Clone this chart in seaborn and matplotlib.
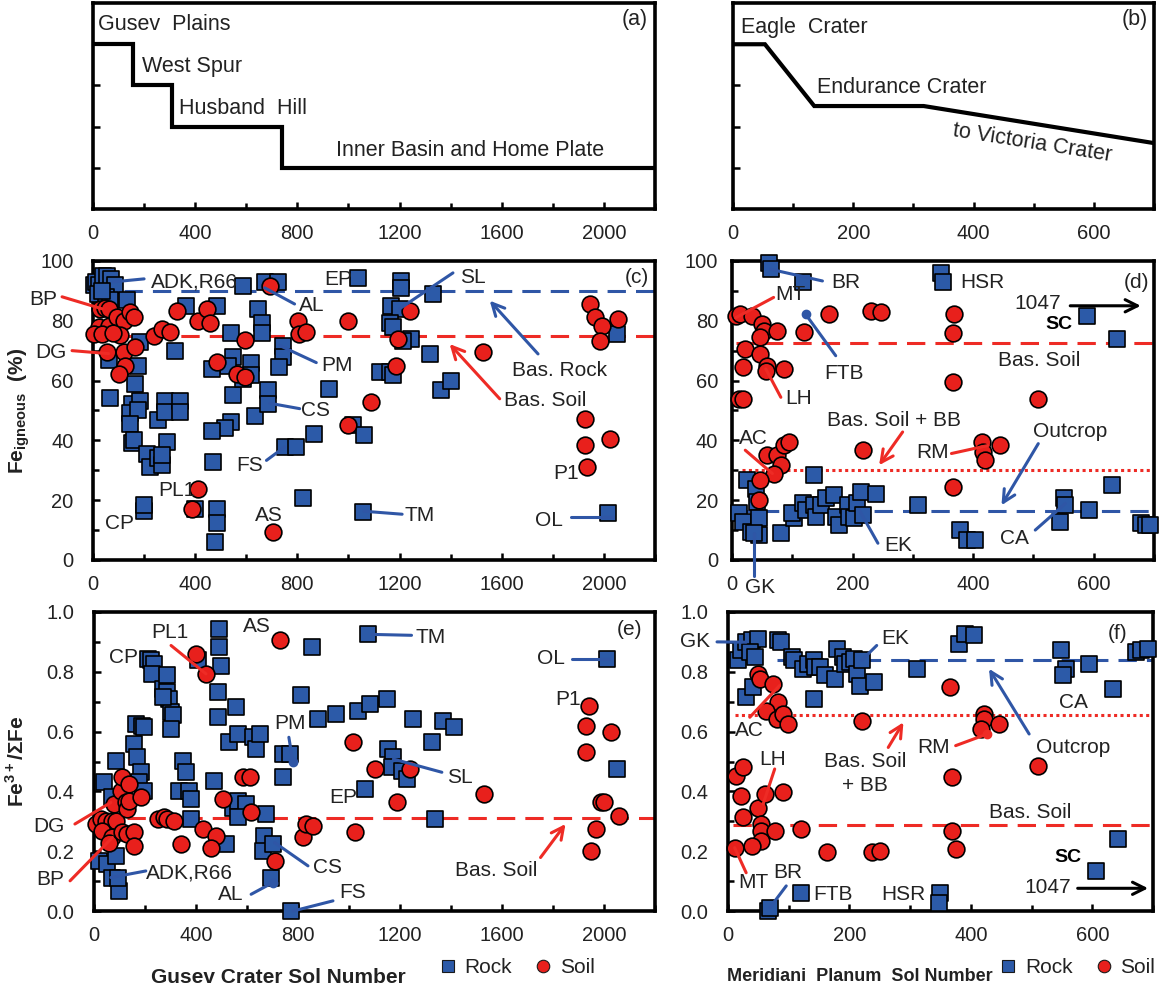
import numpy as np
import pandas as pd
import matplotlib
matplotlib.use('Agg')
import matplotlib.pyplot as plt
import seaborn as sns
from matplotlib.ticker import MultipleLocator, FormatStrFormatter, NullFormatter
from matplotlib.lines import Line2D

sns.set_style('ticks')
plt.rcParams['font.family'] = ['Liberation Sans', 'DejaVu Sans']
plt.rcParams['mathtext.fontset'] = 'custom'
plt.rcParams['mathtext.rm'] = 'Liberation Sans'
plt.rcParams['mathtext.bf'] = 'Liberation Sans:bold'

ROCK = '#2C5AA8'
SOIL = '#E8201C'
BLUE_L = '#2F56A6'
RED_L = '#EE2B25'
TXT = '#222222'

# ---- traverse profiles (a), (b) ----
gusev_path_sol = [0, 155, 155, 310, 310, 740, 740, 2200]
gusev_path_lvl = [4, 4, 3, 3, 2, 2, 1, 1]
meri_path_sol = [0, 53, 135, 317, 700]
meri_path_lvl = [4, 4, 2.5, 2.5, 1.6]

# ---- (c) Gusev, Fe igneous (%) : (sol, value) ----
c_rock = [(3, 92), (12, 93), (25, 92), (40, 95), (55, 95), (70, 94), (85, 92), (20, 89), (50, 88),
          (68, 87), (35, 90), (133, 87), (185, 73), (61, 67), (68, 54), (165, 59), (178, 65),
          (152, 52), (185, 53), (146, 49), (178, 50), (146, 45.5), (152, 39), (160, 40),
          (211, 35.5), (224, 31), (256, 34), (269, 31.7), (289, 39.4), (269, 35), (256, 46.7),
          (282, 53.3), (282, 49.4), (340, 53.3), (340, 49.4), (321, 70), (366, 85), (484, 85),
          (542, 76), (549, 67.8), (529, 65), (464, 64), (549, 55), (542, 46), (516, 44), (464, 43),
          (471, 32.8), (484, 17), (484, 12.2), (477, 6.1), (399, 17.2), (198, 16.5), (198, 18.3),
          (588, 91.7), (620, 66), (620, 62), (588, 60.5), (633, 48.3), (686, 56.7), (686, 52.2),
          (647, 84), (660, 79.4), (660, 76), (672, 92.8), (724, 92.8), (742, 71.7), (742, 67.8),
          (729, 64.4), (750, 37.8), (796, 37.8), (865, 42.2), (924, 57.2), (822, 20.6), (1017, 45),
          (1062, 41.7), (1037, 94.4), (1056, 16.1), (1207, 93.3), (1207, 91), (1167, 85),
          (1200, 83.9), (1161, 79.4), (1174, 77.8), (1246, 73.9), (1213, 73.3), (1331, 88.9),
          (1318, 68.9), (1363, 56.7), (1402, 60), (1122, 63), (1161, 63), (1174, 62), (2017, 15.6),
          (2050, 75.6)]
c_soil = [(29, 83.9), (48, 84.4), (61, 83.9), (22, 77.8), (61, 78.3), (94, 81.1), (120, 80),
          (146, 82.8), (159, 81.3), (3, 75.6), (35, 75.6), (107, 75.3), (80, 76), (55, 69.4),
          (120, 69.4), (165, 71.1), (126, 65), (100, 62.2), (237, 75), (269, 77.2), (302, 76.1),
          (328, 83.3), (412, 80), (445, 83.9), (458, 79.4), (484, 66.1), (562, 62.2), (595, 61.1),
          (595, 73.6), (692, 91.7), (802, 80), (808, 75.6), (834, 76.1), (997, 80), (1088, 52.8),
          (997, 45), (412, 23.9), (386, 17.2), (704, 9.4), (1239, 83.3), (1193, 73.9), (1187, 65),
          (1527, 69.4), (1945, 85.6), (1965, 81.1), (1991, 78.3), (2056, 80.6), (1984, 73.3),
          (1925, 47.2), (1925, 38.3), (1932, 31.1), (2023, 40.6)]

# ---- (d) Meridiani, Fe igneous (%) ----
d_rock = [(61, 99.4), (64, 97.2), (117, 92.8), (347, 96.1), (350, 92.8), (589, 81.7), (639, 73.9),
          (25, 26.7), (39, 23.9), (42, 19.4), (136, 28.3), (11, 15.6), (19, 12.8), (31, 9.4),
          (44, 8.3), (44, 13.9), (81, 8.9), (103, 13.9), (100, 15.6), (117, 18.9), (122, 16.7),
          (136, 18.3), (139, 14.4), (147, 18.3), (156, 20.6), (169, 21.7), (172, 14.4), (178, 11.7),
          (192, 18.3), (194, 14.4), (203, 13.9), (208, 18.9), (214, 22.8), (217, 15), (239, 22.2),
          (308, 18.3), (378, 10), (389, 6.7), (403, 6.7), (550, 20.6), (553, 18.3), (544, 12.8),
          (592, 16.7), (631, 25), (678, 12.2), (686, 11.7), (694, 11.7), (36, 8.9)]
d_soil = [(6, 81.7), (14, 82.2), (33, 81.7), (50, 78.9), (53, 76.7), (47, 74.4), (75, 76.7),
          (119, 76.1), (161, 82.2), (231, 83.3), (247, 82.8), (369, 82.2), (367, 75.8), (22, 70.6),
          (47, 68.9), (19, 64.4), (58, 65), (56, 63.3), (86, 63.9), (11, 53.9), (19, 53.9),
          (367, 59.4), (508, 53.9), (58, 35), (75, 35), (81, 31.7), (69, 28.9), (47, 26.7), (44, 20),
          (86, 38.3), (94, 39.4), (217, 36.7), (414, 39.4), (417, 36.1), (419, 33.3), (444, 38.3),
          (367, 24.4)]

# ---- (e) Gusev, Fe3+/total Fe ----
e_rock = [(39, 0.43), (85, 0.503), (72, 0.38), (20, 0.168), (52, 0.156), (85, 0.184), (72, 0.112),
          (98, 0.067), (92, 0.112), (157, 0.559), (164, 0.626), (190, 0.62), (197, 0.614),
          (170, 0.514), (184, 0.464), (177, 0.43), (197, 0.402), (210, 0.844), (223, 0.838),
          (236, 0.827), (229, 0.793), (269, 0.743), (288, 0.788), (288, 0.732), (295, 0.709),
          (302, 0.665), (308, 0.654), (302, 0.609), (269, 0.715), (347, 0.503), (360, 0.464),
          (334, 0.402), (373, 0.402), (380, 0.374), (380, 0.307), (406, 0.838), (492, 0.944),
          (492, 0.883), (498, 0.821), (485, 0.732), (485, 0.648), (472, 0.436), (556, 0.682),
          (531, 0.564), (564, 0.592), (544, 0.346), (564, 0.369), (597, 0.358), (564, 0.313),
          (623, 0.581), (636, 0.542), (649, 0.592), (518, 0.223), (675, 0.324), (668, 0.251),
          (662, 0.201), (695, 0.112), (701, 0.223), (741, 0.525), (767, 0.525), (741, 0.447),
          (813, 0.721), (854, 0.883), (878, 0.642), (950, 0.659), (1036, 0.67), (1082, 0.693),
          (1147, 0.709), (1062, 0.408), (1075, 0.927), (773, 0.0), (1154, 0.542), (1174, 0.514),
          (1167, 0.48), (1207, 0.469), (1226, 0.441), (1252, 0.642), (1325, 0.564), (1370, 0.637),
          (1410, 0.615), (1338, 0.307), (2013, 0.844), (2052, 0.475)]
e_soil = [(400, 0.86), (439, 0.793), (728, 0.905), (7, 0.291), (26, 0.307), (46, 0.302), (72, 0.302),
          (85, 0.302), (33, 0.268), (72, 0.246), (59, 0.229), (79, 0.358), (105, 0.402), (111, 0.447),
          (138, 0.425), (124, 0.363), (131, 0.341), (138, 0.369), (184, 0.38), (111, 0.263),
          (131, 0.257), (157, 0.263), (157, 0.218), (249, 0.307), (275, 0.313), (288, 0.307),
          (315, 0.302), (341, 0.223), (426, 0.274), (478, 0.251), (459, 0.212), (505, 0.374),
          (583, 0.447), (610, 0.447), (616, 0.33), (708, 0.168), (819, 0.246), (832, 0.291),
          (859, 0.285), (1016, 0.564), (1023, 0.263), (1101, 0.475), (1187, 0.363), (1239, 0.475),
          (1528, 0.391), (1941, 0.687), (1928, 0.62), (1928, 0.531), (2026, 0.598), (1987, 0.363),
          (2000, 0.363), (2059, 0.318), (1967, 0.274), (1947, 0.201)]

# ---- (f) Meridiani, Fe3+/total Fe ----
f_rock = [(17, 0.838), (22, 0.872), (30, 0.899), (39, 0.905), (50, 0.911), (36, 0.866), (44, 0.849),
          (30, 0.715), (41, 0.749), (83, 0.905), (88, 0.899), (105, 0.849), (108, 0.838), (124, 0.81),
          (132, 0.827), (141, 0.838), (143, 0.816), (152, 0.816), (160, 0.788), (176, 0.777),
          (179, 0.877), (190, 0.849), (193, 0.827), (201, 0.832), (207, 0.844), (212, 0.793),
          (220, 0.838), (218, 0.754), (240, 0.765), (141, 0.709), (311, 0.81), (380, 0.894),
          (391, 0.927), (405, 0.922), (548, 0.872), (556, 0.81), (551, 0.788), (595, 0.827),
          (634, 0.743), (672, 0.866), (681, 0.872), (692, 0.877), (642, 0.24), (606, 0.134),
          (121, 0.061), (350, 0.061), (347, 0.028), (66, 0.0), (69, 0.011)]
f_soil = [(50, 0.793), (52, 0.777), (74, 0.76), (83, 0.698), (63, 0.67), (80, 0.642), (91, 0.659),
          (99, 0.626), (220, 0.637), (366, 0.749), (421, 0.659), (421, 0.642), (416, 0.609),
          (446, 0.626), (510, 0.486), (369, 0.447), (369, 0.268), (375, 0.207), (14, 0.453),
          (25, 0.48), (22, 0.385), (25, 0.313), (50, 0.346), (61, 0.391), (91, 0.397), (55, 0.291),
          (55, 0.268), (77, 0.268), (55, 0.235), (39, 0.218), (11, 0.212), (121, 0.274),
          (163, 0.196), (237, 0.196), (251, 0.201)]

# basaltic / outcrop reference levels
c_bas_rock, c_bas_soil = 90, 75
d_bas_soil, d_bas_bb, d_outcrop = 72.5, 30, 16.3
e_bas_soil = 0.31
f_outcrop, f_bas_bb, f_bas_soil = 0.838, 0.657, 0.287

DASH = (0, (6, 3.3))
DOT = (0, (1, 1.1))

fig = plt.figure(figsize=(11.61, 9.85), dpi=100)
ax_a = fig.add_axes([0.0801, 0.7878, 0.4841, 0.2091])
ax_b = fig.add_axes([0.6314, 0.7878, 0.3626, 0.2091])
ax_c = fig.add_axes([0.0801, 0.4315, 0.4841, 0.3036])
ax_d = fig.add_axes([0.6305, 0.4315, 0.3635, 0.3036])
ax_e = fig.add_axes([0.0810, 0.0751, 0.4832, 0.3036])
ax_f = fig.add_axes([0.6270, 0.0751, 0.3661, 0.3036])


def style_axes(ax):
    for sp in ax.spines.values():
        sp.set_linewidth(2.6)
        sp.set_color('black')
    ax.tick_params(which='both', direction='in', top=False, right=False, width=1.8,
                   labelsize=14.5, labelcolor=TXT, color='black')
    ax.tick_params(which='major', length=5)
    ax.tick_params(which='minor', length=4)


def draw_points(ax, rock, soil):
    r = pd.DataFrame(rock, columns=['sol', 'val'])
    s = pd.DataFrame(soil, columns=['sol', 'val'])
    sns.scatterplot(data=r, x='sol', y='val', marker='s', s=140, color=ROCK, edgecolor='black',
                    linewidth=1.2, ax=ax, zorder=3, legend=False, clip_on=False)
    sns.scatterplot(data=s, x='sol', y='val', marker='o', s=145, color=SOIL, edgecolor='black',
                    linewidth=1.2, ax=ax, zorder=4, legend=False, clip_on=False)
    ax.set_xlabel('')
    ax.set_ylabel('')


def add_notes(ax, notes, size=15):
    for label, x, y, ha in notes:
        ax.text(x, y, label, ha=ha, va='center', fontsize=size, color=TXT, clip_on=False, zorder=6)


def add_links(ax, links):
    for x0, y0, x1, y1, color, kind in links:
        if kind == 'arrow':
            ax.annotate('', xy=(x1, y1), xytext=(x0, y0), annotation_clip=False,
                        arrowprops=dict(arrowstyle='->', color=color, lw=2.2, mutation_scale=22,
                                        shrinkA=0, shrinkB=0), zorder=6)
        else:
            ax.plot([x0, x1], [y0, y1], color=color, lw=2.2, solid_capstyle='round',
                    clip_on=False, zorder=5)
            if kind == 'dot':
                ax.plot([x1], [y1], 'o', color=color, ms=6, clip_on=False, zorder=5)


# ---- (a) ----
ax_a.plot(gusev_path_sol, gusev_path_lvl, color='black', lw=3, solid_joinstyle='miter')
ax_a.set_xlim(0, 2200)
ax_a.set_ylim(0, 5)
ax_a.xaxis.set_major_locator(MultipleLocator(400))
ax_a.xaxis.set_minor_locator(MultipleLocator(200))
ax_a.set_yticks([1, 2, 3, 4])
ax_a.yaxis.set_major_formatter(NullFormatter())
style_axes(ax_a)
ax_a.tick_params(axis='x', pad=11)
add_notes(ax_a, [('Gusev  Plains', 20, 4.47, 'left'), ('West Spur', 190, 3.45, 'left'),
                 ('Husband  Hill', 337, 2.45, 'left'),
                 ('Inner Basin and Home Plate', 950, 1.43, 'left'), ('(a)', 2170, 4.6, 'right')],
          size=15.5)

# ---- (b) ----
ax_b.plot(meri_path_sol, meri_path_lvl, color='black', lw=3, solid_joinstyle='miter')
ax_b.set_xlim(0, 700)
ax_b.set_ylim(0, 5)
ax_b.xaxis.set_major_locator(MultipleLocator(200))
ax_b.xaxis.set_minor_locator(MultipleLocator(100))
ax_b.set_yticks([1, 2, 3, 4])
ax_b.yaxis.set_major_formatter(NullFormatter())
style_axes(ax_b)
ax_b.tick_params(axis='x', pad=11)
add_notes(ax_b, [('Eagle  Crater', 13, 4.4, 'left'), ('Endurance Crater', 140, 2.96, 'left'),
                 ('(b)', 690, 4.6, 'right')], size=15.5)
ax_b.text(497, 1.6, 'to Victoria Crater', ha='center', va='center', fontsize=15.5, color=TXT,
          rotation=-9, rotation_mode='anchor')

# ---- (c) ----
ax_c.plot([120, 2200], [c_bas_rock] * 2, color=BLUE_L, lw=2.2, ls=DASH, zorder=2)
ax_c.plot([120, 2200], [c_bas_soil] * 2, color=RED_L, lw=2.2, ls=DASH, zorder=2)
draw_points(ax_c, c_rock, c_soil)
ax_c.set_xlim(0, 2200)
ax_c.set_ylim(0, 100)
ax_c.xaxis.set_major_locator(MultipleLocator(400))
ax_c.xaxis.set_minor_locator(MultipleLocator(200))
ax_c.yaxis.set_major_locator(MultipleLocator(20))
ax_c.yaxis.set_minor_locator(MultipleLocator(10))
style_axes(ax_c)
ax_c.tick_params(axis='x', pad=11)
ax_c.tick_params(axis='y', pad=14)
ax_c.set_ylabel(r'Fe$_{\mathbf{igneous}}$  (%)', fontsize=15, fontweight='bold', color=TXT)
ax_c.yaxis.set_label_coords(-0.108, 0.5)
add_notes(ax_c, [('ADK,R66', 225, 92.8, 'left'), ('BP', -141, 87.2, 'right'),
                 ('DG', -102, 69.4, 'right'), ('AL', 808, 85, 'left'), ('PM', 893, 65, 'left'),
                 ('CS', 815, 50, 'left'), ('FS', 562, 31.7, 'left'), ('PL1', 256, 23.3, 'left'),
                 ('CP', 48, 12.2, 'left'), ('AS', 633, 15, 'left'), ('EP', 906, 93.9, 'left'),
                 ('TM', 1220, 15, 'left'), ('SL', 1435, 94.4, 'left'),
                 ('Bas. Rock', 1640, 63.3, 'left'), ('Bas. Soil', 1608, 53.3, 'left'),
                 ('P1', 1801, 28.9, 'left'), ('OL', 1729, 13.3, 'left'), ('(c)', 2177, 94.4, 'right')])
add_links(ax_c, [(200, 94, 80, 93, BLUE_L, 'line'), (-121, 88, 35, 84, RED_L, 'line'),
                 (-82, 70, 61, 69, RED_L, 'line'), (789, 85.6, 672, 91, BLUE_L, 'line'),
                 (874, 66, 731, 71.7, BLUE_L, 'line'), (809, 50.6, 692, 52.4, BLUE_L, 'line'),
                 (679, 33.3, 750, 37.8, BLUE_L, 'line'), (1210, 15.3, 1060, 16.3, BLUE_L, 'line'),
                 (1409, 96, 1200, 84, BLUE_L, 'line'), (1742, 68.9, 1553, 86.7, BLUE_L, 'arrow'),
                 (1592, 53.9, 1396, 72.2, RED_L, 'arrow'), (1873, 14.4, 2036, 14.4, BLUE_L, 'line')])

# ---- (d) ----
ax_d.plot([6, 700], [d_bas_soil] * 2, color=RED_L, lw=2.2, ls=DASH, zorder=2)
ax_d.plot([17, 700], [d_bas_bb] * 2, color=RED_L, lw=2.2, ls=DOT, zorder=2)
ax_d.plot([0, 700], [d_outcrop] * 2, color=BLUE_L, lw=2.2, ls=DASH, zorder=2)
draw_points(ax_d, d_rock, d_soil)
ax_d.set_xlim(0, 700)
ax_d.set_ylim(0, 100)
ax_d.xaxis.set_major_locator(MultipleLocator(200))
ax_d.xaxis.set_minor_locator(MultipleLocator(100))
ax_d.yaxis.set_major_locator(MultipleLocator(20))
ax_d.yaxis.set_minor_locator(MultipleLocator(10))
style_axes(ax_d)
ax_d.tick_params(axis='x', pad=11)
ax_d.tick_params(axis='y', pad=10)
add_notes(ax_d, [('BR', 164, 92.8, 'left'), ('HSR', 378, 92.8, 'left'), ('MT', 72, 88.9, 'left'),
                 ('FTB', 153, 62.2, 'left'), ('LH', 89, 53.9, 'left'), ('AC', 11, 40.6, 'left'),
                 ('Bas. Soil + BB', 268, 46.7, 'center'), ('RM', 306, 36.1, 'left'),
                 ('Bas. Soil', 442, 66.7, 'left'), ('Outcrop', 500, 42.8, 'left'),
                 ('EK', 253, 5, 'left'), ('CA', 444, 7.2, 'left'), ('GK', 22, -9.3, 'left'),
                 ('1047', 469, 85.6, 'left'), ('(d)', 692, 92.8, 'right')])
ax_d.text(519, 78.9, 'SC', ha='left', va='center', fontsize=14, fontweight='bold', color='black')
add_links(ax_d, [(150, 93.3, 64, 97.2, BLUE_L, 'line'), (69, 87.8, 6, 81, RED_L, 'line'),
                 (172, 68.3, 122, 82.2, BLUE_L, 'dot'), (81, 54.4, 56, 63.9, RED_L, 'line'),
                 (22, 36.7, 67, 28.9, RED_L, 'line'), (283, 42.8, 244, 31.7, RED_L, 'arrow'),
                 (364, 35.6, 425, 38.3, RED_L, 'line'), (508, 38.9, 447, 18.3, BLUE_L, 'arrow'),
                 (242, 5.6, 211, 16.7, BLUE_L, 'line'), (503, 10, 553, 18.9, BLUE_L, 'line'),
                 (36, 8.9, 36, -5.5, BLUE_L, 'line'), (561, 85, 678, 85, 'black', 'arrow')])

# ---- (e) ----
ax_e.plot([131, 2200], [e_bas_soil] * 2, color=RED_L, lw=2.2, ls=DASH, zorder=2)
draw_points(ax_e, e_rock, e_soil)
ax_e.set_xlim(0, 2200)
ax_e.set_ylim(0, 1.0)
ax_e.xaxis.set_major_locator(MultipleLocator(400))
ax_e.xaxis.set_minor_locator(MultipleLocator(200))
ax_e.yaxis.set_major_locator(MultipleLocator(0.2))
ax_e.yaxis.set_minor_locator(MultipleLocator(0.1))
ax_e.yaxis.set_major_formatter(FormatStrFormatter('%.1f'))
style_axes(ax_e)
ax_e.tick_params(axis='x', pad=11)
ax_e.tick_params(axis='y', pad=14)
ax_e.set_ylabel(r'Fe$^{\mathbf{3+}}$/ΣFe', fontsize=15, fontweight='bold', color=TXT)
ax_e.yaxis.set_label_coords(-0.118, 0.5)
add_notes(ax_e, [('AS', 583, 0.95, 'left'), ('PL1', 223, 0.933, 'left'), ('CP', 59, 0.849, 'left'),
                 ('PM', 708, 0.626, 'left'), ('EP', 924, 0.38, 'left'), ('DG', -114, 0.283, 'right'),
                 ('BP', -117, 0.104, 'right'), ('ADK,R66', 203, 0.128, 'left'),
                 ('AL', 485, 0.056, 'left'), ('CS', 859, 0.145, 'left'), ('FS', 963, 0.061, 'left'),
                 ('TM', 1259, 0.916, 'left'), ('OL', 1737, 0.844, 'left'), ('P1', 1810, 0.709, 'left'),
                 ('SL', 1384, 0.447, 'left'), ('Bas. Soil', 1416, 0.134, 'left'),
                 ('(e)', 2151, 0.94, 'right')])
add_links(ax_e, [(302, 0.888, 439, 0.793, RED_L, 'line'), (764, 0.581, 780, 0.497, BLUE_L, 'dot'),
                 (-75, 0.291, 66, 0.363, RED_L, 'line'), (-94, 0.101, 72, 0.246, RED_L, 'line'),
                 (203, 0.134, 66, 0.112, BLUE_L, 'line'), (616, 0.056, 701, 0.095, BLUE_L, 'dot'),
                 (839, 0.151, 708, 0.229, BLUE_L, 'line'), (937, 0.034, 780, 0.0, BLUE_L, 'line'),
                 (1245, 0.922, 1090, 0.925, BLUE_L, 'line'), (1875, 0.844, 2019, 0.844, BLUE_L, 'line'),
                 (1364, 0.464, 1174, 0.508, BLUE_L, 'line'), (1751, 0.179, 1849, 0.291, RED_L, 'arrow')])

# ---- (f) ----
ax_f.plot([80, 700], [f_outcrop] * 2, color=BLUE_L, lw=2.2, ls=DASH, zorder=2)
ax_f.plot([11, 700], [f_bas_bb] * 2, color=RED_L, lw=2.2, ls=DOT, zorder=2)
ax_f.plot([8, 700], [f_bas_soil] * 2, color=RED_L, lw=2.2, ls=DASH, zorder=2)
draw_points(ax_f, f_rock, f_soil)
ax_f.set_xlim(0, 700)
ax_f.set_ylim(0, 1.0)
ax_f.xaxis.set_major_locator(MultipleLocator(200))
ax_f.xaxis.set_minor_locator(MultipleLocator(100))
ax_f.yaxis.set_major_locator(MultipleLocator(0.2))
ax_f.yaxis.set_minor_locator(MultipleLocator(0.1))
ax_f.yaxis.set_major_formatter(FormatStrFormatter('%.1f'))
style_axes(ax_f)
ax_f.tick_params(axis='x', pad=11)
ax_f.tick_params(axis='y', pad=14)
add_notes(ax_f, [('GK', -30, 0.9, 'right'), ('EK', 253, 0.911, 'left'), ('(f)', 658, 0.927, 'right'),
                 ('AC', 11, 0.603, 'left'), ('LH', 52, 0.508, 'left'), ('RM', 311, 0.547, 'left'),
                 ('CA', 545, 0.698, 'left'), ('Outcrop', 507, 0.547, 'left'),
                 ('Bas. Soil', 430, 0.33, 'left'), ('1047', 488, 0.078, 'left'),
                 ('MT', 17, 0.095, 'left'), ('BR', 74, 0.128, 'left'), ('FTB', 140, 0.056, 'left'),
                 ('HSR', 253, 0.056, 'left')])
ax_f.text(226, 0.46, 'Bas. Soil\n+ BB', ha='center', va='center', fontsize=15, color=TXT,
          multialignment='center', linespacing=1.3)
ax_f.text(537, 0.179, 'SC', ha='left', va='center', fontsize=14, fontweight='bold', color='black')
add_links(ax_f, [(-18, 0.9, 30, 0.899, BLUE_L, 'line'), (245, 0.888, 220, 0.838, BLUE_L, 'line'),
                 (36, 0.648, 85, 0.754, RED_L, 'line'), (77, 0.475, 58, 0.358, RED_L, 'line'),
                 (264, 0.547, 289, 0.631, RED_L, 'arrow'), (375, 0.553, 427, 0.592, RED_L, 'dot'),
                 (496, 0.592, 430, 0.81, BLUE_L, 'arrow'), (576, 0.076, 692, 0.076, 'black', 'arrow'),
                 (30, 0.128, 11, 0.212, RED_L, 'line'), (96, 0.084, 69, 0.011, BLUE_L, 'line')])

# ---- bottom labels and legends ----
handles = [Line2D([], [], marker='s', ls='', color=ROCK, mec='#1a1a1a', mew=0.8, ms=9),
           Line2D([], [], marker='o', ls='', color=SOIL, mec='#1a1a1a', mew=0.8, ms=9)]
for ax, label, size, lx, gx in [(ax_e, 'Gusev Crater Sol Number', 15, 0.328, 0.752),
                                (ax_f, 'Meridiani  Planum  Sol Number', 13, 0.31, 0.82)]:
    ax.set_xlabel(label, fontsize=size, fontweight='bold', color=TXT)
    ax.xaxis.set_label_coords(lx, -0.19)
    ax.legend(handles, ['Rock', 'Soil'], loc='center', bbox_to_anchor=(gx, -0.19), ncol=2,
              frameon=False, fontsize=15, handletextpad=0.3, columnspacing=1.0,
              handlelength=1.0, borderpad=0, labelcolor=TXT)

fig.savefig('out.png', dpi=100)
